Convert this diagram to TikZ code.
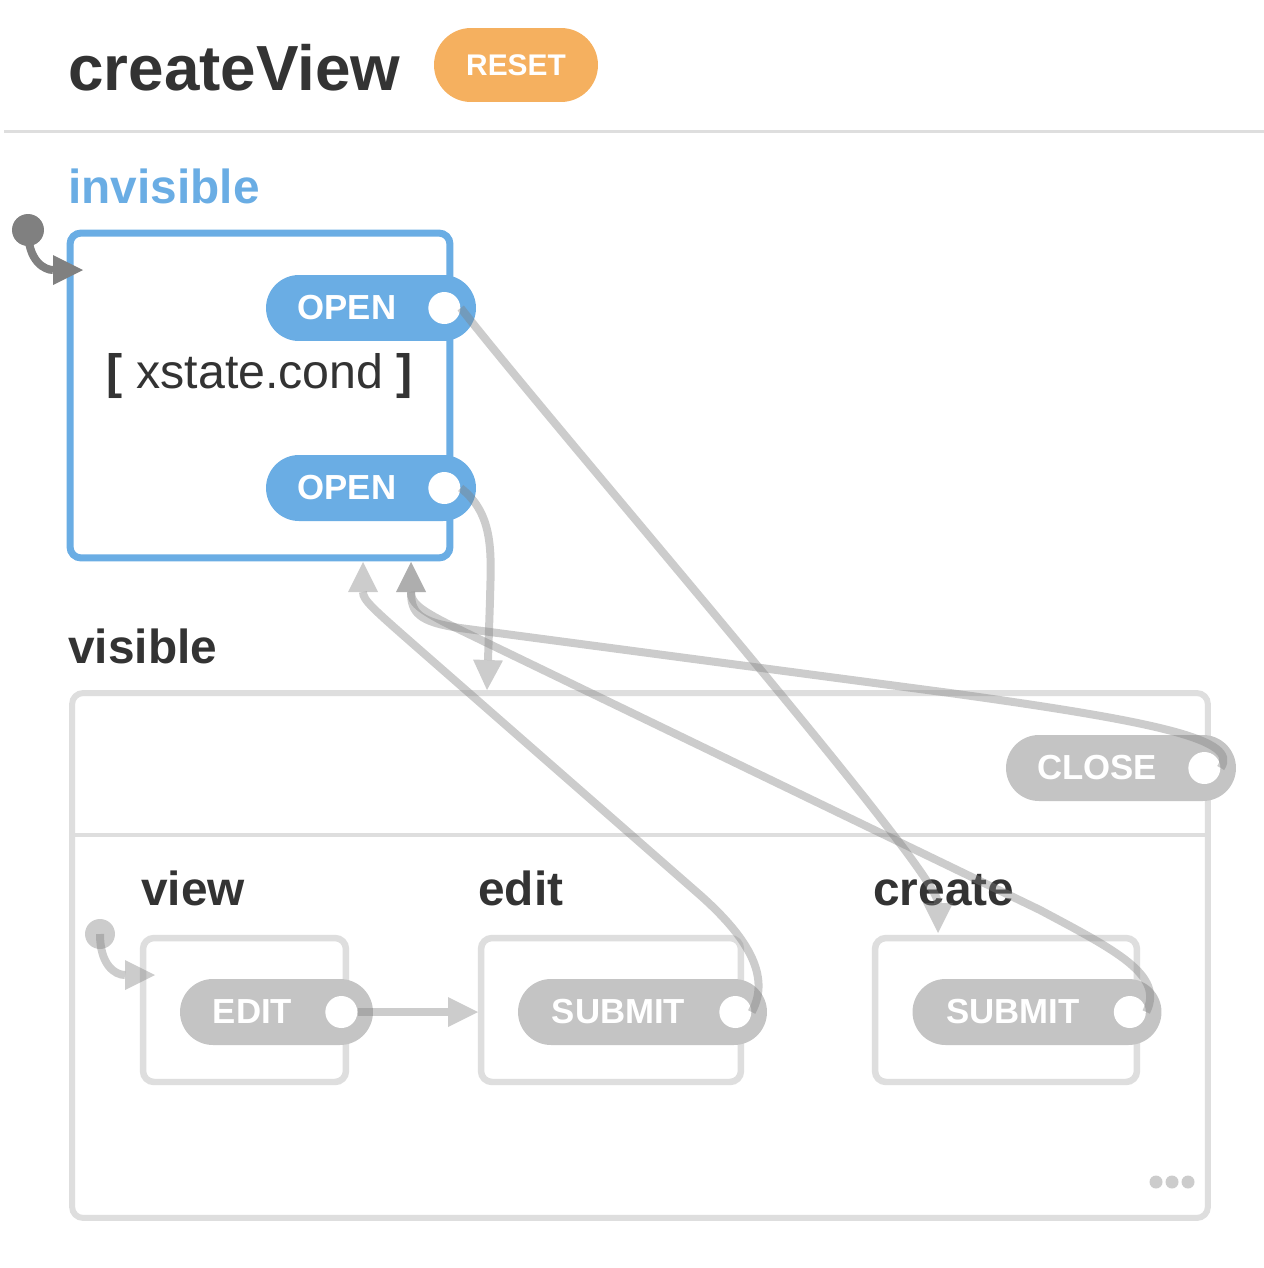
\documentclass[tikz,border=0pt]{standalone}
\usepackage{fontspec}
\setmainfont{Liberation Sans}
\usetikzlibrary{arrows.meta}

\definecolor{stblue}{RGB}{106,173,228}
\definecolor{stgray}{RGB}{196,196,196}
\definecolor{stline}{RGB}{222,222,222}
\definecolor{sttext}{RGB}{51,51,51}
\definecolor{storange}{RGB}{245,176,95}

\tikzset{
	statebox/.style={draw=stline, line width=0.13cm, rounded corners=0.22cm, fill=white},
	pill/.style={fill=stgray, text=white, minimum height=1.32cm, rounded corners=0.66cm, inner sep=0pt, font=\fontsize{19.8}{20}\selectfont\bfseries},
	port/.style={circle, fill=white, minimum size=0.64cm, inner sep=0pt},
	statelabel/.style={anchor=base west, text=sttext, inner sep=0pt, font=\fontsize{27.2}{30}\selectfont\bfseries},
	trans/.style={draw=black!50, opacity=0.4, line width=0.16cm, -{Triangle[length=0.6cm,width=0.6cm,line width=0pt]}},
}

\begin{document}
\begin{tikzpicture}[x=0.02cm, y=-0.02cm]
	\useasboundingbox (0,0) rectangle (1264,1268);

	% header
	\node[anchor=base west, text=sttext, inner sep=0pt, font=\fontsize{36.3}{40}\selectfont\bfseries] (title) at (68,90) {createView};
	\node[fill=storange, text=white, minimum width=3.28cm, minimum height=1.48cm, rounded corners=0.74cm, inner sep=0pt, font=\fontsize{17}{18}\selectfont\bfseries] (reset) at (516,65) {RESET};
	\draw[stline, line width=0.06cm] (4,131) -- (1264,131);

	% invisible
	\node[statelabel, text=stblue] (invlabel) at (68,203) {invisible};
	\node[statebox, draw=stblue, line width=0.14cm, minimum width=7.6cm, minimum height=6.5cm] (invisible) at (260,395.5) {};
	\node[text=sttext, font=\fontsize{27.5}{30}\selectfont] (cond) at (260,376) {{\bfseries[} xstate.cond {\bfseries]}};
	\node[pill, fill=stblue, minimum width=4.2cm] (open1) at (371,308) {OPEN\kern0.96cm};
	\node[pill, fill=stblue, minimum width=4.2cm] (open2) at (371,488) {OPEN\kern0.96cm};
	\node[port] (open1port) at ([xshift=-0.64cm]open1.east) {};
	\node[port] (open2port) at ([xshift=-0.64cm]open2.east) {};
	\node[circle, fill=black!50, minimum size=0.64cm, inner sep=0pt] (invdot) at (28,230) {};

	% visible
	\node[statelabel] (vislabel) at (68,663) {visible};
	\node[statebox, line width=0.12cm, minimum width=22.72cm, minimum height=10.5cm] (visible) at (640,955.5) {};
	\draw[stline, line width=0.08cm] (visible.west |- 0,835) -- (visible.east |- 0,835);
	\node[pill, minimum width=4.6cm] (close) at (1121,768) {CLOSE\kern0.96cm};
	\node[port] (closeport) at ([xshift=-0.64cm]close.east) {};

	% children of visible
	\node[statelabel] (viewlabel) at (141,905) {view};
	\node[statelabel] (editlabel) at (478,905) {edit};
	\node[statelabel] (createlabel) at (873,905) {create};
	\node[statebox, minimum width=4.06cm, minimum height=2.88cm] (view) at (244.5,1010) {};
	\node[statebox, minimum width=5.2cm, minimum height=2.88cm] (edit) at (611,1010) {};
	\node[statebox, minimum width=5.24cm, minimum height=2.88cm] (create) at (1006,1010) {};
	\node[pill, minimum width=3.86cm] (editev) at (276.5,1012) {EDIT\kern0.96cm};
	\node[pill, minimum width=4.98cm] (submit1) at (642.5,1012) {SUBMIT\kern0.96cm};
	\node[pill, minimum width=4.98cm] (submit2) at (1037,1012) {SUBMIT\kern0.96cm};
	\node[port] (editport) at ([xshift=-0.64cm]editev.east) {};
	\node[port] (submit1port) at ([xshift=-0.64cm]submit1.east) {};
	\node[port] (submit2port) at ([xshift=-0.64cm]submit2.east) {};
	\node[circle, fill=black!20, minimum size=0.6cm, inner sep=0pt] (viewdot) at (100,934) {};
	\foreach \i in {0,1,2}
		\fill[black!20] (1156+16*\i,1182) circle (0.13cm);

	% arrow ends
	\coordinate (invinit) at (83,270);
	\coordinate (invin1) at (363,562);
	\coordinate (invin2) at (411,562);
	\coordinate (visin) at (487,690);
	\coordinate (viewin) at (155,975);
	\coordinate (editin) at (478,1012);
	\coordinate (createin) at (938,933);

	% transitions
	\draw[black!50, line width=0.16cm, -{Triangle[length=0.6cm,width=0.6cm,line width=0pt]}] (invdot.center) .. controls (28,262) and (45,270) .. (invinit);
	\draw[trans] (open1port.east) .. controls (560,435) and (938,870) .. (createin);
	\draw[trans] (open2port.east) .. controls (495,515) and (491,555) .. (490,600) -- (visin);
	\draw[trans] (closeport.east) .. controls (1240,740) and (1160,722) .. (950,693) -- (460,628) .. controls (418,622) and (411,612) .. (invin2);
	\draw[trans] (viewdot.center) .. controls (100,965) and (115,975) .. (viewin);
	\draw[trans] (editport.east) -- (editin);
	\draw[trans] (submit1port.east) .. controls (772,975) and (745,935) .. (700,895) -- (420,650) .. controls (372,608) and (363,600) .. (invin1);
	\draw[trans] (submit2port.east) .. controls (1165,975) and (1115,950) .. (1040,910) -- (450,625) .. controls (418,609) and (411,602) .. (invin2);
\end{tikzpicture}
\end{document}
